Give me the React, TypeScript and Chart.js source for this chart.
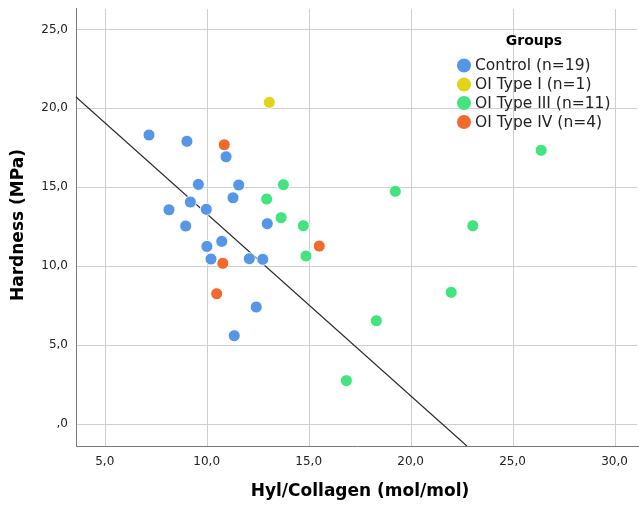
import React, { useEffect, useRef } from "react";
import { Chart, registerables } from "chart.js";

Chart.register(...registerables);

// ---- Data ----
const groupNames = ["Control (n=19)", "OI Type I (n=1)", "OI Type III (n=11)", "OI Type IV (n=4)"];
const groupColors = ["#5596E6", "#E2D41C", "#45E37F", "#F0692D"];

const controlX = [7.17, 9.03, 10.95, 9.59, 11.57, 11.29, 9.20, 8.15, 9.98, 8.97, 12.97, 10.74, 10.01, 10.21, 12.09, 12.75, 12.43, 11.35];
const controlY = [18.31, 17.91, 16.93, 15.18, 15.14, 14.33, 14.06, 13.57, 13.6, 12.54, 12.69, 11.57, 11.25, 10.45, 10.47, 10.43, 7.41, 5.59];

const type1X = [13.07];
const type1Y = [20.38];

const type3X = [13.76, 12.94, 13.65, 14.74, 14.87, 19.25, 23.05, 26.40, 21.99, 18.32, 16.85];
const type3Y = [15.16, 14.25, 13.07, 12.56, 10.64, 14.74, 12.56, 17.34, 8.34, 6.54, 2.74];

const type4X = [10.86, 10.79, 10.49, 15.52];
const type4Y = [17.69, 10.18, 8.25, 11.27];

// fit line end points
const fitX = [3.59, 22.76];
const fitY = [20.72, -1.4];

const xTickValues = [5, 10, 15, 20, 25, 30];
const xTickLabels = ["5,0", "10,0", "15,0", "20,0", "25,0", "30,0"];
const yTickValues = [0, 5, 10, 15, 20, 25];
const yTickLabels = [",0", "5,0", "10,0", "15,0", "20,0", "25,0"];

const xTitle = "Hyl/Collagen (mol/mol)";
const yTitle = "Hardness (MPa)";
const legendTitle = "Groups";

const X_MIN = 3.59;
const X_MAX = 31.2;
const Y_MIN = -1.4;
const Y_MAX = 26.36;

const AREA = { left: 76, top: 8, right: 639, bottom: 446 };

const FONT = "'DejaVu Sans', sans-serif";
const GRID = "#cfcfcf";

function pts(xs: number[], ys: number[]) {
  return xs.map((x, i) => ({ x, y: ys[i] }));
}

const layoutPlugin = {
  id: "fixedArea",
  afterLayout(chart: any) {
    const a = chart.chartArea;
    a.left = AREA.left;
    a.top = AREA.top;
    a.right = AREA.right;
    a.bottom = AREA.bottom;
    a.width = AREA.right - AREA.left;
    a.height = AREA.bottom - AREA.top;
    const xs = chart.scales.x;
    xs.left = AREA.left;
    xs.right = AREA.right;
    xs.width = AREA.right - AREA.left;
    xs.top = AREA.bottom;
    xs.bottom = chart.height;
    xs.height = chart.height - AREA.bottom;
    xs.configure();
    const ys = chart.scales.y;
    ys.top = AREA.top;
    ys.bottom = AREA.bottom;
    ys.height = AREA.bottom - AREA.top;
    ys.left = 0;
    ys.right = AREA.left;
    ys.width = AREA.left;
    ys.configure();
  },
};

// grid lines drawn through the library's scales, only at the listed tick values
const gridPlugin = {
  id: "grid",
  beforeDatasetsDraw(chart: any) {
    const ctx = chart.ctx as CanvasRenderingContext2D;
    const a = chart.chartArea;
    const xs = chart.scales.x;
    const ys = chart.scales.y;
    ctx.save();
    ctx.strokeStyle = GRID;
    ctx.lineWidth = 1;
    ctx.beginPath();
    xTickValues.forEach((v) => {
      const px = Math.round(xs.getPixelForValue(v)) + 0.5;
      ctx.moveTo(px, a.top);
      ctx.lineTo(px, a.bottom);
    });
    yTickValues.forEach((v) => {
      const py = Math.round(ys.getPixelForValue(v)) + 0.5;
      ctx.moveTo(a.left, py);
      ctx.lineTo(a.right, py);
    });
    ctx.stroke();
    // axis lines
    ctx.strokeStyle = "#7a7a7a";
    ctx.beginPath();
    ctx.moveTo(a.left + 0.5, a.top);
    ctx.lineTo(a.left + 0.5, a.bottom + 0.5);
    ctx.lineTo(a.right, a.bottom + 0.5);
    ctx.stroke();
    ctx.restore();
    ctx.beginPath();
  },
};

const overlayPlugin = {
  id: "overlay",
  afterDraw(chart: any) {
    const ctx = chart.ctx as CanvasRenderingContext2D;
    const a = chart.chartArea;
    ctx.save();
    // no frame on the top and right edges of the plot area
    ctx.fillStyle = "#ffffff";
    ctx.fillRect(a.left + 1, a.top - 3, a.right - a.left, 4);
    ctx.fillRect(a.right - 2, a.top - 3, 3, a.bottom - a.top + 2);

    // axis titles
    ctx.fillStyle = "#000";
    ctx.font = `bold 17px ${FONT}`;
    ctx.textAlign = "center";
    ctx.textBaseline = "middle";
    ctx.fillText(xTitle, 360, 492);
    ctx.save();
    ctx.translate(19, 225);
    ctx.rotate(-Math.PI / 2);
    ctx.fillText(yTitle, 0, 0);
    ctx.restore();

    // legend
    ctx.font = `bold 14px ${FONT}`;
    ctx.textAlign = "center";
    ctx.fillText(legendTitle, 534, 41);
    ctx.font = `15.5px ${FONT}`;
    ctx.textAlign = "left";
    const ys = [65.5, 84.5, 103, 122];
    groupNames.forEach((name, i) => {
      ctx.beginPath();
      ctx.arc(464, ys[i], 7, 0, Math.PI * 2);
      ctx.fillStyle = groupColors[i];
      ctx.fill();
      ctx.fillStyle = "#222";
      ctx.fillText(name, 475, ys[i] + 0.5);
    });
    ctx.restore();
  },
};

export default function App() {
  const ref = useRef<HTMLCanvasElement | null>(null);

  useEffect(() => {
    document.body.style.margin = "0";
    const canvas = ref.current;
    if (!canvas) return;

    const pointDs = (label: string, data: any[], color: string) => ({
      type: "scatter" as const,
      label,
      data,
      backgroundColor: color,
      borderColor: "rgba(255,255,255,0.9)",
      borderWidth: 1,
      pointRadius: 6,
      pointHoverRadius: 6,
      showLine: false,
      clip: false,
    });

    const chart = new Chart(canvas, {
      type: "scatter",
      data: {
        datasets: [
          {
            type: "line" as const,
            label: "fit",
            data: pts(fitX, fitY),
            borderColor: "#2a2a2a",
            borderWidth: 1.1,
            pointRadius: 0,
            fill: false,
            tension: 0,
            order: 5,
            clip: false,
          } as any,
          pointDs(groupNames[0], pts(controlX, controlY), groupColors[0]),
          pointDs(groupNames[1], pts(type1X, type1Y), groupColors[1]),
          pointDs(groupNames[2], pts(type3X, type3Y), groupColors[2]),
          pointDs(groupNames[3], pts(type4X, type4Y), groupColors[3]),
        ],
      },
      options: {
        animation: false,
        responsive: false,
        maintainAspectRatio: false,
        plugins: {
          legend: { display: false },
          tooltip: { enabled: false },
        },
        scales: {
          x: {
            type: "linear",
            min: X_MIN,
            max: X_MAX,
            afterBuildTicks: (scale: any) => {
              scale.ticks = xTickValues.map((v) => ({ value: v }));
            },
            ticks: {
              includeBounds: false,
              stepSize: 5,
              callback: (v: any) => {
                const i = xTickValues.indexOf(Number(v));
                return i >= 0 ? xTickLabels[i] : "";
              },
              color: "#222",
              font: { family: FONT, size: 12 },
              padding: 9,
              maxRotation: 0,
              autoSkip: false,
            },
            grid: { display: false, drawTicks: false, tickLength: 0 },
            border: { display: false },
          },
          y: {
            type: "linear",
            min: Y_MIN,
            max: Y_MAX,
            afterBuildTicks: (scale: any) => {
              scale.ticks = yTickValues.map((v) => ({ value: v }));
            },
            ticks: {
              includeBounds: false,
              stepSize: 5,
              callback: (v: any) => {
                const i = yTickValues.indexOf(Number(v));
                return i >= 0 ? yTickLabels[i] : "";
              },
              color: "#222",
              font: { family: FONT, size: 12 },
              padding: 8,
              autoSkip: false,
            },
            grid: { display: false, drawTicks: false, tickLength: 0 },
            border: { display: false },
          },
        },
      },
      plugins: [layoutPlugin, gridPlugin, overlayPlugin],
    });

    return () => chart.destroy();
  }, []);

  return <canvas ref={ref} width={639} height={512} style={{ display: "block" }} />;
}
